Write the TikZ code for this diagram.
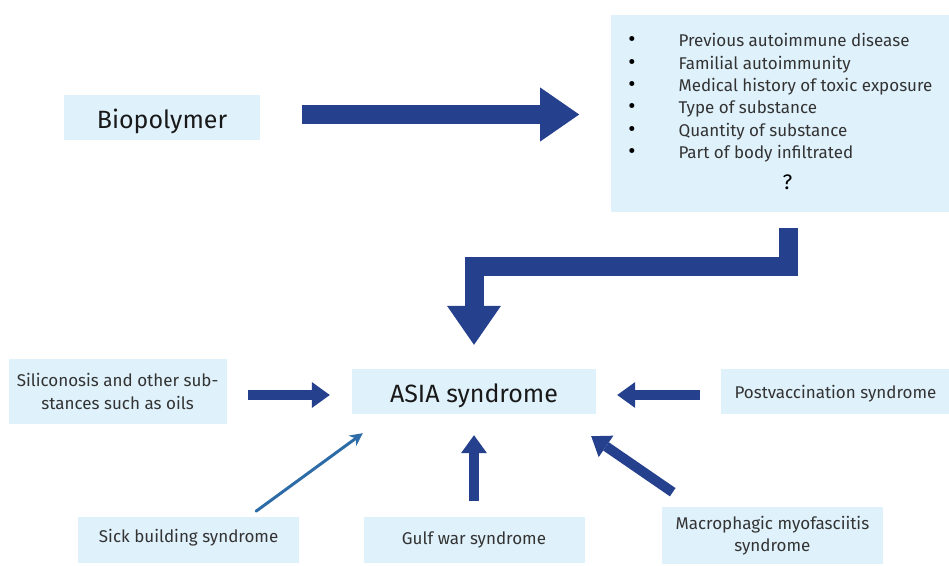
\documentclass[tikz,border=0pt]{standalone}
\usepackage{fontspec}
\setmainfont{Fira Sans}
\usetikzlibrary{arrows.meta,positioning}
\definecolor{boxblue}{HTML}{DFF1FB}
\definecolor{arrblue}{HTML}{25418E}
\definecolor{linkblue}{HTML}{2D6CA6}
\definecolor{txtgray}{HTML}{333333}
\newcommand{\bul}{\textcolor{black}{\fontsize{22}{22}\selectfont\textbullet}}

\begin{document}
\begin{tikzpicture}[x=1pt,y=-1pt,
		box/.style={fill=boxblue,text=txtgray,inner sep=0pt,align=center,font=\fontsize{17}{22.4}\selectfont},
		bigbox/.style={box,text=black!90,font=\fontsize{25}{28}\selectfont,text height=21pt,text depth=0pt},
		fatarrow/.style={arrblue,line width=19pt,-{Triangle[length=39pt,width=54pt,line width=0pt]}},
		midarrow/.style={arrblue,line width=10pt,-{Triangle[length=18pt,width=26pt,line width=0pt]}},
		slimarrow/.style={linkblue,line width=3pt,line cap=round,-{Stealth[length=13pt,width=13pt,line width=0pt]}}]
		\useasboundingbox (0,0) rectangle (949,565);
		\node[bigbox,minimum width=196pt,minimum height=45pt] (bio) at (162,117.5) {Biopolymer};
		\node[box,minimum width=338pt,minimum height=197pt,right=351pt of bio,yshift=4pt] (risk) {%
			\begin{tabular}{@{}l@{\hspace{43pt}}l@{}}
				\bul & Previous autoimmune disease\\
				\bul & Familial autoimmunity\\
				\bul & Medical history of toxic exposure\\
				\bul & Type of substance\\
				\bul & Quantity of substance\\
				\bul & Part of body infiltrated\\[8pt]
				\multicolumn{2}{c}{\hspace{14pt}\textcolor{black}{\fontsize{21}{22}\selectfont ?}}
			\end{tabular}};
		\node[bigbox,minimum width=244pt,minimum height=45pt] (asia) at (474,391.5) {ASIA syndrome};
		\node[box,minimum width=218pt,minimum height=65pt,left=125pt of asia] (sil) {Siliconosis and other sub-\\stances such as oils};
		\node[box,minimum width=228pt,minimum height=45pt,right=125pt of asia,text height=13.6pt,text depth=0pt] (post) {Postvaccination syndrome};
		\node[box,minimum width=221pt,minimum height=46pt,below=103pt of asia] (gulf) {Gulf war syndrome};
		\node[box,minimum width=221pt,minimum height=46pt,left=64pt of gulf,text depth=9pt] (sick) {Sick building syndrome};
		\node[box,minimum width=221pt,minimum height=57pt,right=77pt of gulf,yshift=4.5pt] (mmf) {Macrophagic myofasciitis\\syndrome};
		\draw[fatarrow,shorten <=42pt,shorten >=32pt] ([yshift=3pt]bio.east) -- ([yshift=3pt]bio.east -| risk.west);
		\draw[fatarrow,shorten <=16pt,shorten >=24pt] ([xshift=8pt]risk.south) -- ++(0,54.5) -| (asia.north);
		\draw[midarrow,shorten <=21pt,shorten >=22pt] ([yshift=-3.5pt]sil.east) -- ([yshift=-3.5pt]sil.east -| asia.west);
		\draw[midarrow,shorten <=21pt,shorten >=21pt] ([yshift=-3.5pt]post.west) -- ([yshift=-3.5pt]post.west -| asia.east);
		\draw[midarrow,shorten <=16pt,shorten >=21pt] (gulf.north) -- (gulf.north |- asia.south);
		\draw[midarrow] ([shift={(11,-15)}]mmf.north west) -- ([shift={(-5,22)}]asia.south east);
		\draw[slimarrow] ([shift={(67.5,-6)}]sick.north) -- ([shift={(11,19)}]asia.south west);
	\end{tikzpicture}
\end{document}
